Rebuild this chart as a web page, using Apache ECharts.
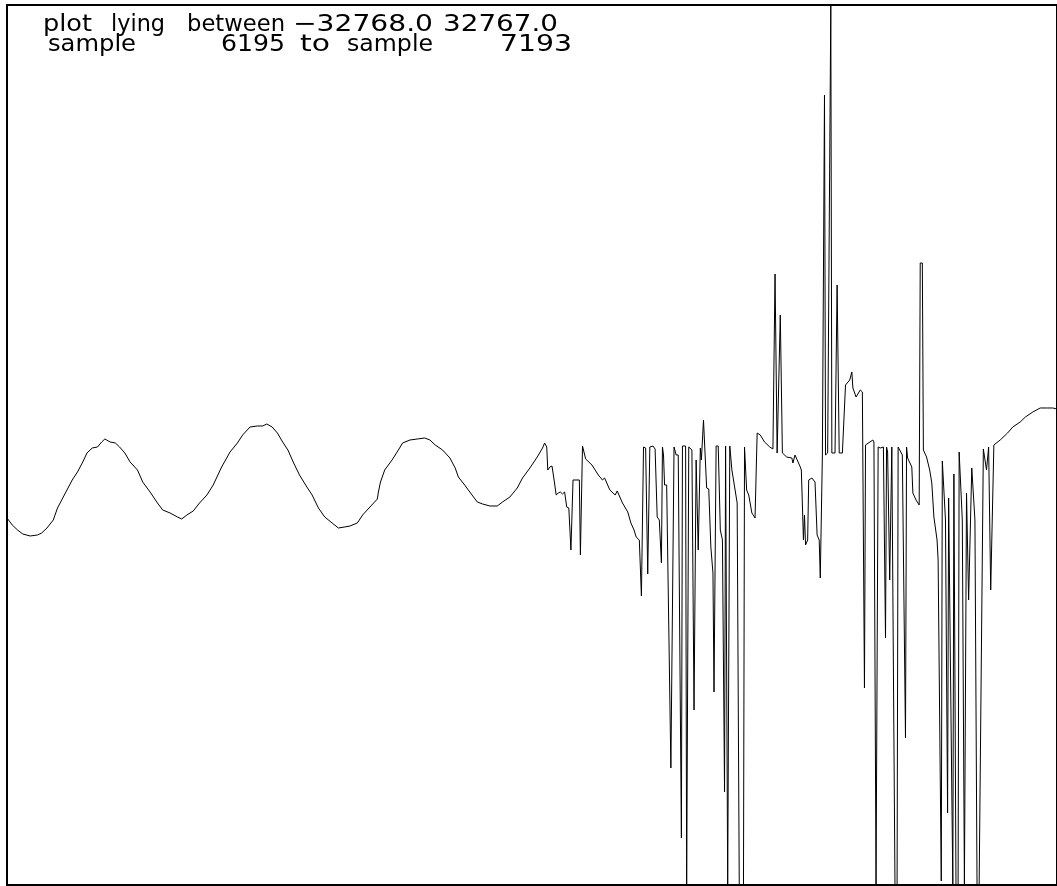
<!DOCTYPE html>
<html>
<head>
<meta charset="utf-8">
<script src="https://cdn.jsdelivr.net/npm/echarts@6/dist/echarts.min.js"></script>
<style>
html,body{margin:0;padding:0;background:#fff;}
#chart{width:1057px;height:886px;}
</style>
</head>
<body>
<div id="chart"></div>
<script>
// Axis range
var yMin = -32768, yMax = 32767;
var sampleStart = 6195, sampleEnd = 7193;

// Header texts
var line1 = ['plot', 'lying', 'between', '\u221232768.0', '32767.0'];
var line2 = ['sample', '6195', 'to', 'sample', '7193'];

// Sample numbers (x) and amplitudes (y)
var samples = [
6195,6200,6205,6210,6217,6224,6228,6233,6239,6243,6247,6252,6257,6262,6267,6271,6276,6281,6285,6288,
6293,6298,6302,6307,6312,6319,6324,6331,6338,6343,6350,6357,6361,6366,6372,6378,6385,6391,6399,6407,
6414,6419,6426,6433,6438,6442,6447,6452,6457,6462,6467,6473,6480,6485,6491,6497,6504,6510,6516,6521,
6528,6533,6540,6547,6548,6550,6554,6561,6567,6571,6578,6585,6592,6597,6602,6609,6616,6621,6624,6630,
6637,6642,6647,6654,6661,6666,6673,6680,6685,6692,6699,6704,6706,6708,
6709,6711,6713,6715,6717,6719,6721,6723,6725,6727,6729,6731,6733,6739,6740,6742,6743,6745,6751,6757,
6761,6763,6768,6773,6775,6780,6785,6788,6791,6793,6796,6798,6800,6802,6804,6806,6809,6811,6813,6815,
6817,6818,6819,6820,6822,6826,6829,6831,6833,6836,6837,6840,6841,6843,6846,6848,6850,6852,6854,6855,
6857,6858,6860,6862,6864,6866,6867,6869,6871,6873,6875,6877,6878,6880,6882,6884,6889,6890,6891,6895,
6896,6898,6900,6903,6906,6908,6911,6915,6920,6923,6925,6927,6930,6932,6936,6941,6942,6944,6949,6950,
6952,6953,6954,6956,6957,6960,6963,6965,6967,6968,6970,6971,6972,6973,6975,6978,6979,6982,6984,6986,
6989,6992,6996,6998,6999,7002,7006,7008,7010,7011,7018,7019,7021,7023,7025,7028,7030,7031,7032,7034,
7036,7039,7041,7042,7046,7049,7050,7051,7055,7056,7059,7062,7063,7065,7066,7069,7072,7074,7076,7079,
7080,7083,7084,7087,7089,7090,7094,7095,7097,7099,7100,7103,7105,7107,7109,7112,7115,7117,7119,7123,
7126,7128,7130,7133,7139,7146,7151,7158,7163,7170,7177,7184,7189,7193
];
var values = [
-5436,-5958,-6330,-6628,-6777,-6702,-6553,-6181,-5585,-4692,-4096,-3351,-2607,-2011,-1266,-596,-224,-149,223,447,
223,149,-149,-596,-1266,-1862,-2756,-3500,-4319,-4841,-5064,-5362,-5511,-5213,-4915,-4319,-3724,-2979,-1639,-521,
149,745,1340,1415,1415,1564,1340,893,223,-373,-1266,-2235,-3128,-3724,-4692,-5362,-5809,-6181,-6106,-6032,
-5809,-5213,-4617,-4021,-3500,-2756,-1862,-1117,-373,149,372,447,521,372,0,-373,-968,-1713,-2383,-2979,
-3724,-4245,-4394,-4543,-4543,-4245,-3873,-3202,-2458,-1713,-894,-224,149,-149,
-1862,-1639,-1564,-2607,-3724,-3575,-3500,-3649,-3500,-4617,-4692,-7820,-2607,-2607,-8192,-75,-149,-1043,-1490,-2235,
-2607,-2458,-3351,-3724,-3426,-4319,-4990,-5809,-6330,-6851,-7075,-11245,-149,-224,-9607,-149,-75,-298,-5362,-5585,
-8788,-149,-745,-2979,-2979,-24054,-149,-745,-745,-29267,-75,-75,-32768,-149,-373,-19735,-1117,-7820,-224,-1117,
1862,1862,-3202,-3277,-7596,-9532,-18394,-75,-75,-6330,-7075,-25841,-75,-32768,-75,-1862,-4319,-4319,-32768,-32768,
-149,-3351,-3724,-5064,-5436,893,745,223,-149,-298,12734,-596,9681,-596,-894,-968,-1341,-745,-1639,-1862,
-7075,-5213,-7447,-7075,-2607,-2458,-2756,-6702,-7075,-9905,-745,-745,26064,-745,-596,32767,-596,-596,11915,-596,
-596,4468,4840,5436,4245,3574,4096,3947,-18096,0,372,223,-32768,-149,-224,-149,-14373,-149,-521,-10054,
-149,-32768,-32768,-149,-745,-21820,-149,-968,-1639,-3575,-4096,-4468,13553,13553,-373,-894,-1862,-2831,-5362,-7075,
-8564,-32469,-1192,-5585,-27405,-3947,-32768,-2160,-32768,-32768,-521,-5585,-32768,-3575,-11543,-1713,-5585,-32768,-32768,-298,
-1862,-149,-10798,0,372,893,1340,1713,2085,2457,2755,2755,2755,2681
];

var points = samples.map(function (s, i) { return [s, values[i]]; });

var FONT = '23px "DejaVu Sans", sans-serif';
var measureCtx = document.createElement('canvas').getContext('2d');
measureCtx.font = FONT;
// word placement: [left, right] in pixels
function word(t, left, right, y) {
  var w = measureCtx.measureText(t).width || 1;
  return {
    type: 'text', silent: true,
    x: left, y: y, scaleX: (right - left) / w, scaleY: 1,
    style: { text: t, x: 0, y: 0, fill: '#000', font: FONT,
             textAlign: 'left', textVerticalAlign: 'middle' }
  };
}
var l1x = [[43, 92], [111, 165], [187, 285], [293, 433], [443, 558]];
var l2x = [[48, 136], [221, 285], [300, 330], [347, 433], [500, 572]];
var graphics = [];
line1.forEach(function (t, i) { graphics.push(word(t, l1x[i][0], l1x[i][1], 25)); });
line2.forEach(function (t, i) { graphics.push(word(t, l2x[i][0], l2x[i][1], 45)); });

var chart = echarts.init(document.getElementById('chart'), null, { renderer: 'canvas' });
chart.setOption({
  animation: false,
  backgroundColor: '#fff',
  grid: { left: 7, top: 5, width: 1050, height: 880, show: true,
          borderColor: '#000', borderWidth: 2, backgroundColor: 'transparent' },
  xAxis: { type: 'value', min: sampleStart, max: sampleEnd, show: false, splitLine: { show: false } },
  yAxis: { type: 'value', min: yMin, max: yMax, show: false, splitLine: { show: false } },
  graphic: graphics,
  series: [{
    type: 'line', data: points, showSymbol: false, symbol: 'none',
    lineStyle: { color: '#000', width: 1 }, clip: true, silent: true
  }]
});
</script>
</body>
</html>
